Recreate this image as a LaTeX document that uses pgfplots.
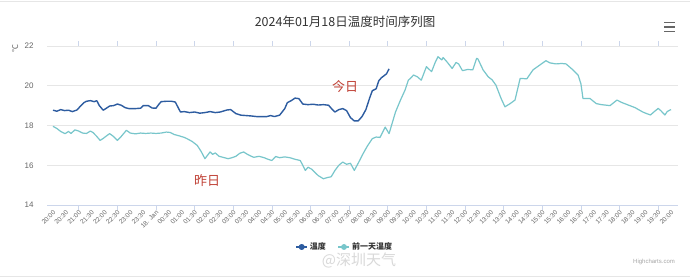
\documentclass[border=0pt]{standalone}
\usepackage{fontspec}
\setmainfont{Liberation Sans}
\newfontfamily\cjk{Noto Sans CJK SC}
\usepackage{pgfplots}
\pgfplotsset{compat=1.18}
\definecolor{todayc}{RGB}{45,92,160}
\definecolor{yestc}{RGB}{120,198,203}
\definecolor{gridc}{RGB}{230,230,230}
\definecolor{axisc}{RGB}{204,214,235}
\definecolor{labc}{RGB}{102,102,102}
\definecolor{titc}{RGB}{51,51,51}
\definecolor{annc}{RGB}{192,64,52}
\begin{document}
\begin{tikzpicture}[x=1pt,y=1pt]
\useasboundingbox (0,0) rectangle (690,277);
\fill[white] (0,0) rectangle (690,277);
\draw[gridc] (0,276.3) -- (690,276.3);
\draw[gridc,line width=1.5pt] (0,0.5) -- (690,0.5);
\begin{axis}[
  at={(47pt,72pt)}, anchor=south west, scale only axis,
  width=631pt, height=159pt,
  xmin=-0.233, xmax=24.27, ymin=14, ymax=22,
  axis line style={draw=none},
  ytick={14,16,18,20,22},
  ymajorgrids, grid style={color=gridc, line width=0.7pt},
  /pgf/number format/assume math mode=true,
  yticklabel style={font=\fontsize{8}{8}\selectfont, color=labc, xshift=-5pt},
  xtick={0,0.5,...,24},
  xticklabels={20:00,20:30,21:00,21:30,22:00,22:30,23:00,23:30,18. Jan,00:30,01:00,01:30,02:00,02:30,03:00,03:30,04:00,04:30,05:00,05:30,06:00,06:30,07:00,07:30,08:00,08:30,09:00,09:30,10:00,10:30,11:00,11:30,12:00,12:30,13:00,13:30,14:00,14:30,15:00,15:30,16:00,16:30,17:00,17:30,18:00,18:30,19:00,19:30,20:00},
  xticklabel style={rotate=45, anchor=east, font=\fontsize{6.5}{6.5}\selectfont, color=labc, yshift=-2pt, xshift=1pt, inner sep=1pt},
  tick style={draw=none},
  major tick length=5pt, tick align=outside,
  extra x ticks={1,2.5,...,23.5},
  extra x tick labels={},
  extra x tick style={grid=none, major tick style={draw=axisc, line width=0.7pt}},
  clip=false,
  legend style={at={(0.472,-0.264)}, anchor=center, draw=none, fill=none,
    legend columns=2, font=\cjk\bfseries\fontsize{8}{8}\selectfont, text=titc,
    /tikz/every even column/.append style={column sep=10pt}},
  legend image code/.code={\draw[#1, line width=1.3pt] (0pt,0pt) -- (11pt,0pt); \fill[#1] (5.5pt,0pt) circle (2.3pt);},
]
\draw[axisc, line width=0.8pt] (rel axis cs:0,0) -- (rel axis cs:1,0);
\addplot[todayc, line width=1.4pt, line join=round] coordinates {
(0,18.77) (0.15,18.72) (0.3,18.8) (0.45,18.75) (0.6,18.77) (0.75,18.7) (0.93,18.78)
(1.05,18.95) (1.2,19.15) (1.3,19.22) (1.45,19.25) (1.6,19.2) (1.7,19.25) (1.8,19.0)
(1.95,18.77) (2.05,18.85) (2.2,18.98) (2.35,19.0) (2.5,19.08) (2.65,19.02) (2.8,18.9)
(2.95,18.85) (3.2,18.85) (3.4,18.87) (3.5,19.0) (3.7,19.0) (3.85,18.88) (4.0,18.87)
(4.1,19.05) (4.2,19.2) (4.4,19.22) (4.6,19.22) (4.75,19.18) (4.9,18.8) (4.95,18.68)
(5.1,18.7) (5.3,18.65) (5.5,18.68) (5.7,18.62) (5.9,18.65) (6.1,18.7) (6.3,18.65)
(6.5,18.68) (6.6,18.72) (6.75,18.78) (6.9,18.8) (7.0,18.7) (7.1,18.6) (7.3,18.52)
(7.5,18.5) (7.7,18.48) (7.9,18.45) (8.1,18.45) (8.3,18.45) (8.45,18.5) (8.6,18.45)
(8.8,18.52) (9.0,18.85) (9.1,19.15) (9.25,19.25) (9.4,19.38) (9.55,19.35) (9.7,19.08)
(9.9,19.05) (10.1,19.07) (10.3,19.03) (10.5,19.05) (10.7,19.02) (10.85,18.8) (10.95,18.68)
(11.1,18.8) (11.25,18.85) (11.4,18.75) (11.55,18.4) (11.7,18.23) (11.85,18.23) (12.0,18.45)
(12.15,18.8) (12.3,19.4) (12.4,19.75) (12.55,19.85) (12.65,20.25) (12.75,20.4) (12.85,20.5)
(12.95,20.6) (13.05,20.85)
};
\addlegendentry{温度}
\addplot[yestc, line width=1.2pt, line join=round] coordinates {
(0,17.96) (0.15,17.85) (0.3,17.7) (0.47,17.59) (0.6,17.7) (0.7,17.6) (0.85,17.78)
(1.0,17.72) (1.15,17.62) (1.3,17.6) (1.45,17.72) (1.55,17.65) (1.7,17.45) (1.83,17.25)
(1.95,17.35) (2.1,17.5) (2.2,17.59) (2.35,17.45) (2.5,17.25) (2.65,17.45) (2.85,17.76)
(3.0,17.62) (3.2,17.58) (3.4,17.62) (3.6,17.6) (3.8,17.62) (4.0,17.6) (4.2,17.62)
(4.4,17.67) (4.55,17.65) (4.7,17.55) (4.9,17.48) (5.1,17.4) (5.2,17.34) (5.4,17.2)
(5.6,17.0) (5.75,16.7) (5.9,16.33) (6.0,16.5) (6.1,16.67) (6.2,16.55) (6.3,16.62)
(6.45,16.45) (6.6,16.4) (6.8,16.33) (6.95,16.38) (7.1,16.45) (7.25,16.6) (7.4,16.67)
(7.55,16.55) (7.7,16.45) (7.8,16.4) (8.0,16.45) (8.2,16.38) (8.35,16.3) (8.5,16.24)
(8.65,16.44) (8.8,16.38) (9.0,16.42) (9.2,16.38) (9.4,16.3) (9.6,16.24) (9.7,16.0)
(9.8,15.74) (9.9,15.9) (10.05,15.8) (10.2,15.6) (10.3,15.48) (10.4,15.4) (10.5,15.32)
(10.65,15.38) (10.8,15.42) (10.95,15.74) (11.1,16.0) (11.25,16.16) (11.4,16.05) (11.55,16.1)
(11.7,15.74) (11.85,16.1) (12.04,16.58) (12.2,16.95) (12.4,17.34) (12.55,17.42) (12.7,17.4)
(12.9,17.92) (13.05,17.59) (13.3,18.68) (13.5,19.3) (13.67,19.78) (13.8,20.28) (13.9,20.4)
(14.0,20.54) (14.15,20.45) (14.3,20.28) (14.5,20.96) (14.7,20.71) (14.85,21.2) (14.95,21.46)
(15.1,21.3) (15.15,21.42) (15.3,21.2) (15.5,20.87) (15.65,21.17) (15.75,21.1) (15.9,20.76)
(16.1,20.82) (16.3,20.8) (16.45,21.38) (16.5,21.35) (16.7,20.8) (16.9,20.45) (17.05,20.3)
(17.2,20.03) (17.4,19.36) (17.55,18.94) (17.75,19.1) (17.94,19.28) (18.14,20.37) (18.4,20.35)
(18.64,20.8) (18.9,21.04) (19.14,21.26) (19.3,21.15) (19.53,21.1) (19.75,21.12) (19.92,21.1)
(20.19,20.8) (20.39,20.54) (20.5,20.1) (20.58,19.36) (20.85,19.36) (21.1,19.1) (21.3,19.05)
(21.63,19.0) (21.9,19.28) (22.1,19.15) (22.4,19.0) (22.6,18.9) (22.9,18.68) (23.05,18.6)
(23.2,18.53) (23.35,18.7) (23.5,18.86) (23.6,18.75) (23.76,18.53) (23.85,18.7) (23.96,18.78)
(24.0,18.8)
};
\addlegendentry{前一天温度}
\end{axis}
\node[font=\cjk\fontsize{12.5}{12.5}\selectfont, text=titc] at (345,255) {2024年01月18日温度时间序列图};
\node[font=\cjk\fontsize{8}{8}\selectfont, text=labc, rotate=90] at (15,229) {℃};
\node[font=\cjk\fontsize{13}{13}\selectfont, text=annc] at (345,190) {今日};
\node[font=\cjk\fontsize{13}{13}\selectfont, text=annc] at (207,96) {昨日};
\foreach \yy in {245.5,250,254.5} \draw[labc, line width=1.6pt] (664,\yy) -- (675,\yy);
\node[font=\cjk\fontsize{15}{15}\selectfont, text=gray!30] at (359,17) {@深圳天气};
\node[font=\fontsize{6}{6}\selectfont, text=gray!70] at (654,15) {Highcharts.com};
\end{tikzpicture}
\end{document}
